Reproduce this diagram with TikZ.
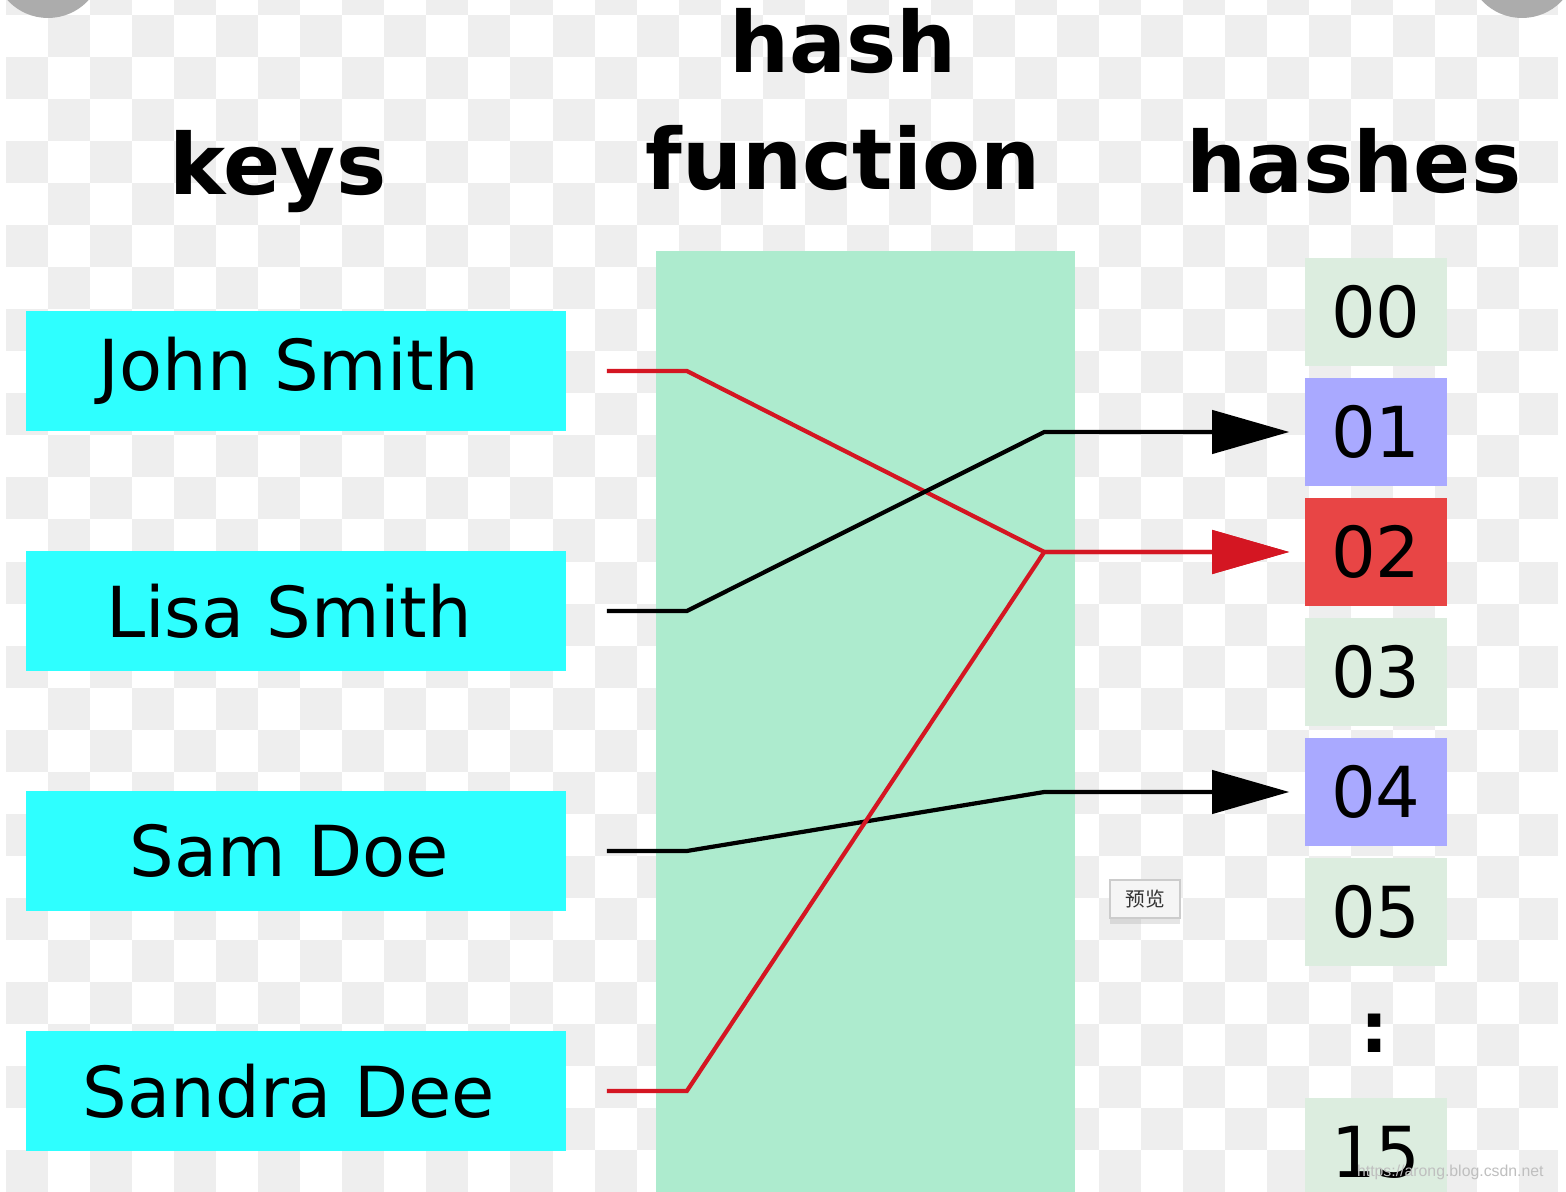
\documentclass[tikz,border=0pt]{standalone}
\usepackage{fontspec}
\setmainfont{DejaVu Sans}
\newfontfamily\cjkfont{Noto Sans CJK SC}
\newfontfamily\markfont{Liberation Sans}
\usepackage{tikz}
\usetikzlibrary{calc,arrows.meta,shadows}
\definecolor{checker}{RGB}{238,238,238}
\definecolor{keycyan}{RGB}{46,255,255}
\definecolor{hashmint}{RGB}{173,235,206}
\definecolor{slotgreen}{RGB}{220,237,223}
\definecolor{slotblue}{RGB}{169,169,255}
\definecolor{slotred}{RGB}{232,69,69}
\definecolor{linkred}{RGB}{212,22,34}
\definecolor{tipgray}{RGB}{172,172,172}
\tikzset{
  heading/.style={font=\bfseries\fontsize{24}{33.5}\selectfont,align=center,inner sep=0pt},
  keybox/.style={fill=keycyan,minimum width=5.4cm,minimum height=1.2cm,inner sep=0pt,font=\fontsize{20}{24}\selectfont,
    execute at end node={\hspace*{0.14cm}}},
  slot/.style={fill=#1,minimum width=1.42cm,minimum height=1.08cm,inner sep=0pt,font=\fontsize{20}{24}\selectfont},
  link/.style={line width=1.2pt,line join=miter,shorten <=0.4cm,shorten >=0.15cm,-{Triangle[length=0.77cm,width=0.43cm]}}
}

\begin{document}
\begin{tikzpicture}[x=0.01cm,y=-0.01cm]
\clip (0,0) rectangle (1566,1192);
\fill[white] (0,0) rectangle (1566,1192);
% transparency checkerboard
\foreach \i in {0,...,36} {
  \foreach \j in {-1,...,28} {
    \ifodd\numexpr\i+\j\relax
      \fill[checker] ({6+42.04*\i},{15+42.04*\j}) rectangle ++(42.04,42.04);
    \fi
  }
}
\fill[white] (1558,0) rectangle (1566,1192);
\fill[white] (0,0) rectangle (6,1192);
\fill[tipgray] (48,-37) circle (55);
\fill[tipgray] (1522,-37) circle (55);

% headings
\node[heading,anchor=base] (keys) at (278,195) {keys};
\node[heading,anchor=base] (hashes) at (1354,193) {hashes};
\node[heading,anchor=base] (hashfn) at (843,190) {hash\\function};

% hash function band
\fill[hashmint] (656,251) rectangle (1075,1200);

% keys
\node[keybox] (john) at (296,371) {John Smith};
\node[keybox] (lisa) at (296,611) {Lisa Smith};
\node[keybox] (sam) at (296,851) {Sam Doe};
\node[keybox] (sandra) at (296,1091) {Sandra Dee};

% buckets
\node[slot=slotgreen] (h00) at (1376,312) {00};
\node[slot=slotblue] (h01) at (1376,432) {01};
\node[slot=slotred] (h02) at (1376,552) {02};
\node[slot=slotgreen] (h03) at (1376,672) {03};
\node[slot=slotblue] (h04) at (1376,792) {04};
\node[slot=slotgreen] (h05) at (1376,912) {05};
\node[font=\bfseries\fontsize{20}{24}\selectfont,anchor=base] (dots) at (1375,1053) {:};
\node[slot=slotgreen] (h15) at (1376,1152) {15};

% mappings
\draw[link,linkred] (john.east) -- ++(120,0) -- ($(h02.west)+(-260,0)$) -- (h02.west);
\draw[link] (lisa.east) -- ++(120,0) -- ($(h01.west)+(-260,0)$) -- (h01.west);
\draw[link] (sam.east) -- ++(120,0) -- ($(h04.west)+(-260,0)$) -- (h04.west);
\draw[link,linkred] (sandra.east) -- ++(120,0) -- ($(h02.west)+(-260,0)$) -- (h02.west);

% screenshot overlays
\node[fill=white!96!black,draw=black!20,drop shadow={opacity=0.2,shadow xshift=0pt,shadow yshift=-0.06cm},
  minimum width=0.7cm,minimum height=0.38cm,inner sep=0pt,font=\cjkfont\fontsize{5.6}{6}\selectfont,text=black!80] (preview) at (1145,899) {预览};
\node[font=\markfont\fontsize{4.5}{5}\selectfont,text=black!25,anchor=base east] (mark) at (1556,1177) {https://arong.blog.csdn.net};
\end{tikzpicture}
\end{document}
